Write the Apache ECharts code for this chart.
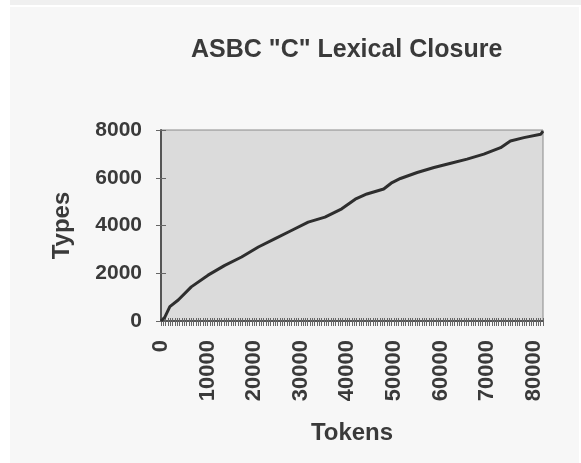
<!DOCTYPE html>
<html>
<head>
<meta charset="utf-8">
<script src="https://cdn.jsdelivr.net/npm/echarts@6/dist/echarts.min.js"></script>
<style>
html,body{margin:0;padding:0;background:#ffffff;}
#chart{width:581px;height:463px;}
</style>
</head>
<body>
<div id="chart"></div>
<script>
const tokens = [0, 800, 1900, 3700, 6500, 10100, 13700, 17300, 20900, 24500, 28000, 31600, 35200, 38800, 41700, 44200, 47800, 49600, 51400, 55000, 58600, 62200, 65700, 69300, 72900, 75000, 77900, 81500, 82000];
const types = [0, 150, 600, 880, 1430, 1920, 2330, 2680, 3100, 3450, 3790, 4140, 4350, 4700, 5100, 5320, 5530, 5800, 5970, 6220, 6430, 6610, 6780, 6990, 7260, 7540, 7680, 7820, 7950];
const xLabelValues = [0, 10000, 20000, 30000, 40000, 50000, 60000, 70000, 80000];
const yLabelValues = [0, 2000, 4000, 6000, 8000];

const points = tokens.map((t, i) => [t, types[i]]);
const font = '"Liberation Sans", Arial, sans-serif';

const chart = echarts.init(document.getElementById('chart'), null, {renderer: 'canvas'});
chart.setOption({
  animation: false,
  backgroundColor: '#ffffff',
  graphic: [
    {type: 'rect', z: -10, shape: {x: 10, y: 0, width: 571, height: 5}, style: {fill: '#f0f0f0'}},
    {type: 'rect', z: -10, shape: {x: 10, y: 7, width: 569, height: 456}, style: {fill: '#f7f7f7'}}
  ],
  title: {
    text: 'ASBC "C" Lexical Closure',
    left: 186,
    top: 33,
    textStyle: {fontFamily: font, fontSize: 25, fontWeight: 'bold', color: '#3a3a3a'}
  },
  grid: {
    left: 161, top: 130, right: 38, bottom: 142,
    show: true, backgroundColor: '#dbdbdb', borderColor: '#8a8a8a', borderWidth: 1
  },
  xAxis: [{
    type: 'value', min: 0, max: 82000, interval: 500,
    name: 'Tokens', nameLocation: 'middle', nameGap: 100,
    nameTextStyle: {fontFamily: font, fontSize: 24, fontWeight: 'bold', color: '#3a3a3a'},
    axisLine: {show: true, lineStyle: {color: '#555555', width: 2}},
    axisTick: {show: true, length: 5, lineStyle: {color: '#666666', width: 1}},
    splitLine: {show: false},
    axisLabel: {
      rotate: 90, margin: 19, fontFamily: font, fontSize: 22, fontWeight: 'bold', color: '#3a3a3a',
      formatter: v => xLabelValues.includes(v) ? String(v) : ''
    }
  }, {
    type: 'value', min: 0, max: 82000, interval: 500, position: 'bottom',
    axisLine: {show: false},
    axisTick: {show: true, inside: true, length: 3, lineStyle: {color: '#666666', width: 1}},
    axisLabel: {show: false}, splitLine: {show: false}
  }],
  yAxis: [{
    type: 'value', min: 0, max: 8000, interval: 2000,
    name: 'Types', nameLocation: 'middle', nameGap: 87, nameRotate: 90,
    nameTextStyle: {fontFamily: font, fontSize: 24, fontWeight: 'bold', color: '#3a3a3a'},
    axisLine: {show: true, lineStyle: {color: '#555555', width: 2}},
    axisTick: {show: true, length: 5, lineStyle: {color: '#666666', width: 1}},
    splitLine: {show: false},
    axisLabel: {
      margin: 19, fontFamily: font, fontSize: 21, fontWeight: 'bold', color: '#3a3a3a',
      formatter: v => yLabelValues.includes(v) ? String(v) : ''
    }
  }, {
    type: 'value', min: 0, max: 8000, interval: 2000, position: 'left',
    axisLine: {show: false},
    axisTick: {show: true, inside: true, length: 5, lineStyle: {color: '#666666', width: 1}},
    axisLabel: {show: false}, splitLine: {show: false}
  }],
  series: [{
    type: 'line',
    data: points,
    showSymbol: false,
    smooth: false,
    lineStyle: {color: '#2e2e2e', width: 3}
  }]
});
</script>
</body>
</html>
